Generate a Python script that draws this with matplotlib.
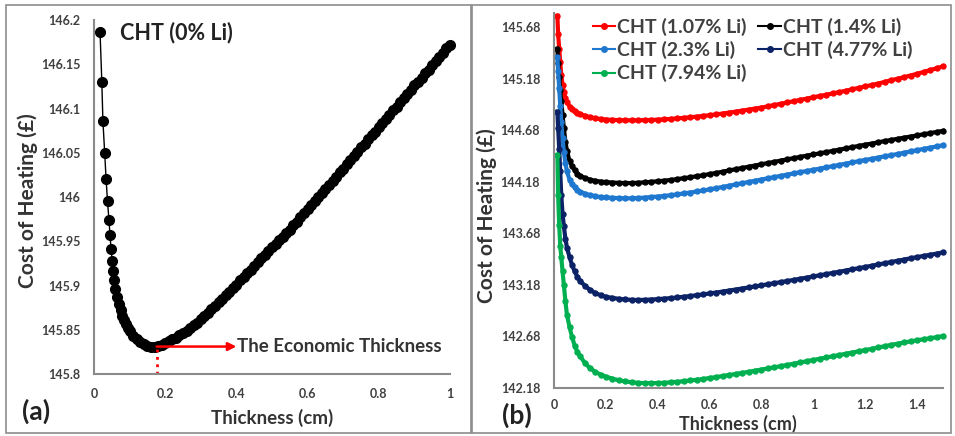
import matplotlib
matplotlib.use('Agg')
import matplotlib.pyplot as plt
from matplotlib.patches import Rectangle
from matplotlib.lines import Line2D

plt.rcParams['font.family'] = ['Lato', 'DejaVu Sans']

# ---------------- data: panel (a) ----------------
thickness_a = [0.017, 0.022, 0.025, 0.030, 0.034, 0.038, 0.042, 0.045, 0.048, 0.051,
               0.053, 0.056, 0.06, 0.065, 0.07, 0.075, 0.08, 0.085, 0.09, 0.095,
               0.10, 0.11, 0.12, 0.13, 0.14, 0.15, 0.16, 0.17, 0.18, 0.19,
               0.20, 0.21, 0.22, 0.23, 0.24, 0.25, 0.26, 0.27, 0.28, 0.29,
               0.30, 0.31, 0.32, 0.33, 0.34, 0.35, 0.36, 0.37, 0.38, 0.39,
               0.40, 0.41, 0.42, 0.43, 0.44, 0.45, 0.46, 0.47, 0.48, 0.49,
               0.50, 0.51, 0.52, 0.53, 0.54, 0.55, 0.56, 0.57, 0.58, 0.59,
               0.60, 0.61, 0.62, 0.63, 0.64, 0.65, 0.66, 0.67, 0.68, 0.69,
               0.70, 0.71, 0.72, 0.73, 0.74, 0.75, 0.76, 0.77, 0.78, 0.79,
               0.80, 0.81, 0.82, 0.83, 0.84, 0.85, 0.86, 0.87, 0.88, 0.89,
               0.90, 0.91, 0.92, 0.93, 0.94, 0.95, 0.96, 0.97, 0.98, 0.99, 1.00]
cost_0li = [146.186, 146.130, 146.086, 146.050, 146.020, 145.995, 145.974, 145.957, 145.941, 145.928,
            145.916, 145.906, 145.896, 145.887, 145.879, 145.872, 145.866, 145.861, 145.856, 145.852,
            145.849, 145.843, 145.839, 145.836, 145.834, 145.832, 145.831, 145.831, 145.832, 145.833,
            145.835, 145.837, 145.839, 145.841, 145.844, 145.846, 145.849, 145.852, 145.855, 145.858,
            145.862, 145.865, 145.869, 145.873, 145.877, 145.881, 145.885, 145.889, 145.893, 145.897,
            145.901, 145.906, 145.910, 145.914, 145.918, 145.922, 145.926, 145.931, 145.935, 145.939,
            145.943, 145.947, 145.951, 145.955, 145.959, 145.963, 145.968, 145.972, 145.977, 145.982,
            145.986, 145.991, 145.995, 146.000, 146.005, 146.009, 146.014, 146.018, 146.023, 146.028,
            146.032, 146.037, 146.042, 146.046, 146.051, 146.056, 146.060, 146.065, 146.070, 146.074,
            146.079, 146.084, 146.088, 146.093, 146.098, 146.102, 146.107, 146.112, 146.116, 146.121,
            146.126, 146.130, 146.135, 146.140, 146.144, 146.149, 146.154, 146.158, 146.163, 146.168, 146.172]
econ_thickness = 0.176
econ_cost = 145.831

xticks_a = [0, 0.2, 0.4, 0.6, 0.8, 1.0]
xticklabels_a = ['0', '0.2', '0.4', '0.6', '0.8', '1']
yticks_a = [145.8, 145.85, 145.9, 145.95, 146.0, 146.05, 146.1, 146.15, 146.2]
yticklabels_a = ['145.8', '145.85', '145.9', '145.95', '146', '146.05', '146.1', '146.15', '146.2']

# ---------------- data: panel (b) ----------------
thickness_b = [0.013, 0.016, 0.02, 0.024, 0.028, 0.033, 0.038, 0.044, 0.05, 0.06,
               0.07, 0.08, 0.09, 0.10, 0.12, 0.14, 0.16, 0.18,
               0.2, 0.225, 0.25, 0.275, 0.3, 0.325, 0.35, 0.375, 0.4, 0.425,
               0.45, 0.475, 0.5, 0.525, 0.55, 0.575, 0.6, 0.625, 0.65, 0.675,
               0.7, 0.725, 0.75, 0.775, 0.8, 0.825, 0.85, 0.875, 0.9, 0.925,
               0.95, 0.975, 1.0, 1.025, 1.05, 1.075, 1.1, 1.125, 1.15, 1.175,
               1.2, 1.225, 1.25, 1.275, 1.3, 1.325, 1.35, 1.375, 1.4, 1.425,
               1.45, 1.475, 1.5]
cost_107li = [145.79, 145.61, 145.47, 145.34, 145.22, 145.12, 145.05, 144.99, 144.95, 144.91,
              144.885, 144.865, 144.85, 144.838, 144.82, 144.806, 144.796, 144.789,
              144.784, 144.781, 144.778, 144.777, 144.776, 144.777, 144.778, 144.780, 144.783, 144.786,
              144.790, 144.795, 144.800, 144.806, 144.812, 144.819, 144.826, 144.834, 144.842, 144.851,
              144.860, 144.870, 144.880, 144.890, 144.900, 144.912, 144.925, 144.937, 144.950, 144.962,
              144.975, 144.987, 145.000, 145.012, 145.025, 145.037, 145.050, 145.063, 145.077, 145.091,
              145.105, 145.119, 145.133, 145.149, 145.165, 145.180, 145.195, 145.211, 145.228, 145.245,
              145.263, 145.281, 145.300]
cost_14li = [145.47, 145.33, 145.20, 145.07, 144.96, 144.83, 144.70, 144.57, 144.48, 144.38,
             144.33, 144.29, 144.26, 144.24, 144.215, 144.20, 144.19, 144.182,
             144.177, 144.173, 144.170, 144.168, 144.168, 144.171, 144.175, 144.180, 144.185, 144.191,
             144.198, 144.206, 144.215, 144.224, 144.234, 144.244, 144.255, 144.266, 144.278, 144.290,
             144.302, 144.314, 144.326, 144.338, 144.350, 144.362, 144.374, 144.386, 144.398, 144.410,
             144.422, 144.434, 144.445, 144.456, 144.468, 144.480, 144.492, 144.504, 144.516, 144.528,
             144.540, 144.551, 144.563, 144.575, 144.586, 144.597, 144.608, 144.619, 144.630, 144.641,
             144.652, 144.663, 144.674]
cost_23li = [145.39, 145.25, 145.09, 144.92, 144.76, 144.60, 144.47, 144.36, 144.28, 144.20,
             144.155, 144.125, 144.10, 144.085, 144.065, 144.05, 144.04, 144.033,
             144.028, 144.025, 144.022, 144.020, 144.020, 144.023, 144.027, 144.032, 144.037, 144.043,
             144.050, 144.058, 144.067, 144.076, 144.086, 144.096, 144.107, 144.118, 144.130, 144.142,
             144.154, 144.166, 144.178, 144.190, 144.202, 144.214, 144.226, 144.238, 144.250, 144.262,
             144.274, 144.285, 144.297, 144.308, 144.320, 144.332, 144.344, 144.356, 144.368, 144.380,
             144.392, 144.403, 144.415, 144.427, 144.438, 144.450, 144.462, 144.475, 144.487, 144.499,
             144.511, 144.523, 144.535]
cost_477li = [144.86, 144.70, 144.50, 144.28, 144.05, 143.87, 143.75, 143.63, 143.54, 143.45,
              143.37, 143.31, 143.26, 143.22, 143.17, 143.13, 143.10, 143.08,
              143.065, 143.054, 143.045, 143.039, 143.035, 143.034, 143.035, 143.038, 143.042, 143.047,
              143.052, 143.058, 143.065, 143.072, 143.080, 143.088, 143.097, 143.106, 143.115, 143.125,
              143.135, 143.145, 143.155, 143.165, 143.176, 143.186, 143.197, 143.207, 143.218, 143.229,
              143.240, 143.251, 143.262, 143.273, 143.285, 143.296, 143.308, 143.319, 143.331, 143.342,
              143.354, 143.366, 143.378, 143.390, 143.402, 143.414, 143.426, 143.438, 143.450, 143.461,
              143.472, 143.483, 143.495]
cost_794li = [144.44, 144.05, 143.76, 143.56, 143.45, 143.31, 143.18, 143.02, 142.89, 142.77,
              142.67, 142.59, 142.53, 142.49, 142.42, 142.37, 142.335, 142.31,
              142.290, 142.271, 142.255, 142.244, 142.235, 142.230, 142.227, 142.227, 142.228, 142.231,
              142.235, 142.240, 142.246, 142.253, 142.260, 142.268, 142.277, 142.286, 142.296, 142.306,
              142.316, 142.326, 142.337, 142.348, 142.359, 142.370, 142.381, 142.392, 142.404, 142.416,
              142.428, 142.440, 142.452, 142.464, 142.476, 142.488, 142.500, 142.512, 142.524, 142.536,
              142.548, 142.560, 142.573, 142.585, 142.598, 142.610, 142.622, 142.632, 142.643, 142.653,
              142.663, 142.673, 142.683]

series_labels_b = ['CHT (1.07% Li)', 'CHT (1.4% Li)', 'CHT (2.3% Li)', 'CHT (4.77% Li)', 'CHT (7.94% Li)']
series_colors_b = ['#FF0000', '#000000', '#1F78CF', '#0B2266', '#00B050']

xticks_b = [0, 0.2, 0.4, 0.6, 0.8, 1.0, 1.2, 1.4]
xticklabels_b = ['0', '0.2', '0.4', '0.6', '0.8', '1', '1.2', '1.4']
yticks_b = [142.18, 142.68, 143.18, 143.68, 144.18, 144.68, 145.18, 145.68]
yticklabels_b = ['142.18', '142.68', '143.18', '143.68', '144.18', '144.68', '145.18', '145.68']

# ---------------- figure ----------------
W, H = 955, 436
fig = plt.figure(figsize=(W / 100, H / 100), dpi=100)


def fx(px):
    return px / W


def fy(py):
    return 1 - py / H


for (x0, y0, x1, y1) in [(6, 5, 471, 433), (472, 5, 951, 433)]:
    fig.add_artist(Rectangle((fx(x0), fy(y1)), (x1 - x0) / W, (y1 - y0) / H,
                             transform=fig.transFigure, fill=False, ec='#8c8c8c', lw=1.2))

tick_color = '#404040'
label_color = '#333333'


def style_axes(ax):
    for s in ['top', 'right']:
        ax.spines[s].set_visible(False)
    for s in ['left', 'bottom']:
        ax.spines[s].set_color('#8a8a8a')
        ax.spines[s].set_linewidth(1.5)
    ax.tick_params(length=0, labelsize=9, labelcolor=tick_color)
    for lab in ax.get_xticklabels() + ax.get_yticklabels():
        lab.set_fontweight('bold')


# ---- panel (a)
ax1 = fig.add_axes([fx(94), fy(374), 356 / W, 354 / H])
ax1.plot(thickness_a, cost_0li, '-o', color='black', ms=7.0, lw=1.0, clip_on=False)
ax1.set_xlim(0, 1)
ax1.set_ylim(145.8, 146.2)
ax1.set_xticks(xticks_a)
ax1.set_xticklabels(xticklabels_a)
ax1.set_yticks(yticks_a)
ax1.set_yticklabels(yticklabels_a)
ax1.tick_params(axis='x', pad=10)
ax1.tick_params(axis='y', pad=10)
style_axes(ax1)
ax1.set_xlabel('Thickness (cm)', fontsize=13.5, fontweight='bold', color=label_color, va='center')
ax1.xaxis.set_label_coords(0.5, -0.124)
ax1.set_ylabel('Cost of Heating (£)', fontsize=15, fontweight='bold', color=label_color, va='center')
ax1.yaxis.set_label_coords(-0.185, 0.49)

ax1.plot([econ_thickness, econ_thickness], [145.8, econ_cost], ':', color='red', lw=2.0)
ax1.annotate('', xy=(0.40, econ_cost), xytext=(econ_thickness, econ_cost),
             arrowprops=dict(arrowstyle='-|>', color='red', lw=1.8, mutation_scale=12,
                             shrinkA=0, shrinkB=0))
ax1.text(0.403, econ_cost, 'The Economic Thickness', va='center', ha='left',
         fontsize=13.5, fontweight='bold', color='#333333')

fig.text(fx(120), fy(33), 'CHT (0% Li)', fontsize=15.5, fontweight='bold', color='#222222', va='center', ha='left')
fig.text(fx(22), fy(411), '(a)', fontsize=19, fontweight='bold', color='#222222', va='center', ha='left')

# ---- panel (b)
ymax_b = 142.18 + (388 - 12.6) / 103.1
ax2 = fig.add_axes([fx(554), fy(388), 389 / W, (388 - 12.6) / H])
series_b = [cost_107li, cost_14li, cost_23li, cost_477li, cost_794li]
for vals, lab, col in zip(series_b, series_labels_b, series_colors_b):
    ax2.plot(thickness_b, vals, '-o', color=col, ms=3.6, lw=3.0, label=lab, clip_on=False)
ax2.set_xlim(0, 1.5)
ax2.set_ylim(142.18, ymax_b)
ax2.set_xticks(xticks_b)
ax2.set_xticklabels(xticklabels_b)
ax2.set_yticks(yticks_b)
ax2.set_yticklabels(yticklabels_b)
ax2.tick_params(axis='x', pad=8)
ax2.tick_params(axis='y', pad=10)
style_axes(ax2)
ax2.set_xlabel('Thickness (cm)', fontsize=13, fontweight='bold', color=label_color, va='center')
ax2.xaxis.set_label_coords(0.473, -0.095)
ax2.set_ylabel('Cost of Heating (£)', fontsize=15, fontweight='bold', color=label_color, va='center')
ax2.yaxis.set_label_coords(-0.172, 0.46)

leg_handles = [Line2D([], [], color=c, marker='o', ms=4, lw=1.5) for c in series_colors_b]
order = [0, 2, 4, 1, 3]
ax2.legend([leg_handles[i] for i in order], [series_labels_b[i] for i in order],
           ncol=2, loc='upper left', bbox_to_anchor=(fx(593), fy(18)),
           bbox_transform=fig.transFigure, frameon=False,
           prop={'weight': 'bold', 'size': 14}, labelcolor='#404040',
           handlelength=1.15, handletextpad=0.1, columnspacing=0.6,
           labelspacing=0.26, borderpad=0, borderaxespad=0)

fig.text(fx(502), fy(415), '(b)', fontsize=19, fontweight='bold', color='#222222', va='center', ha='left')

fig.savefig('out.png', dpi=100)
